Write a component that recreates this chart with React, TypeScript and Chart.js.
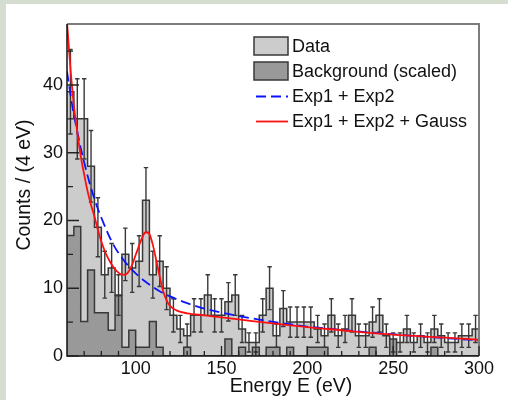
import React, { useEffect, useRef } from "react";
import { Chart, registerables } from "chart.js";

Chart.register(...registerables);

// ---- data -------------------------------------------------------------
const binLow = [
  60, 64, 68, 72, 76, 80, 84, 88, 92, 96, 100, 104, 108, 112, 116, 120, 124, 128, 132, 136,
  140, 144, 148, 152, 156, 160, 164, 168, 172, 176, 180, 184, 188, 192, 196, 200, 204, 208, 212, 216,
  220, 224, 228, 232, 236, 240, 244, 248, 252, 256, 260, 264, 268, 272, 276, 280, 284, 288, 292, 296,
];
const binHigh = 300;

const dataCounts = [
  39, 35, 35, 28, 19, 12, 13, 9, 15, 13, 14, 23, 12, 14, 10, 6, 4, 3, 6, 6,
  9, 6, 6, 8, 9, 4, 2, 2, 6, 10, 3, 7, 5, 5, 5, 5, 4, 3, 6, 3,
  4, 6, 3, 3, 5, 6, 3, 2, 2, 4, 2, 3, 2, 4, 3, 2, 2, 3, 3, 4,
];

const backgroundScaled = [
  17.8, 19.1, 5.1, 12.7, 6.4, 6.4, 3.8, 8.9, 1.3, 3.8, 1.3, 1.3, 5.1, 1.3, 0, 0, 0, 1.3, 0, 0,
  0, 0, 0, 2.5, 0, 1.3, 0, 1.3, 0, 1.3, 1.3, 0, 1.3, 0, 0, 1.3, 1.3, 1.3, 0, 0,
  0, 0, 0, 0, 1.3, 0, 0, 2.5, 0, 0, 0, 0, 0, 1.3, 0, 0, 0, 0, 0, 0,
];

const expEnergy = [
  60, 62, 64, 66, 68, 70, 72, 74, 76, 78, 80, 84, 88, 92, 96, 100, 105, 110, 115, 120,
  130, 140, 150, 160, 180, 200, 220, 240, 260, 280, 300,
];
const expValues = [
  42, 38.6, 35.6, 33.1, 30.7, 28.6, 26.6, 24.8, 23.2, 21.7, 20.4, 18.0, 16.0, 14.5, 13.2, 12.2,
  11.1, 10.2, 9.4, 8.8, 7.8, 7.0, 6.4, 5.9, 5.05, 4.35, 3.85, 3.4, 3.0, 2.65, 2.3,
];

const gaussEnergy = [
  60, 62, 64, 66, 68, 70, 72, 74, 76, 78, 80, 82, 84, 86, 88, 90, 92, 94, 96, 98,
  100, 102, 104, 106, 108, 110, 112, 114, 116, 118, 120, 124, 130, 140, 150, 160, 180, 200,
  220, 240, 260, 280, 300,
];
const gaussValues = [
  49.3, 42.5, 37, 33, 29.5, 26.8, 24.3, 22.3, 20.6, 18.6, 16.9, 15.5, 14.4, 13.5, 12.8, 12.3,
  12.0, 12.0, 12.5, 13.5, 14.9, 16.3, 17.6, 18.3, 18.0, 16.4, 14.1, 11.7, 9.6, 8.2, 7.4, 6.7,
  6.3, 6.0, 5.7, 5.4, 4.8, 4.25, 3.8, 3.35, 3.0, 2.7, 2.4,
];

const xTickLabels = [100, 150, 200, 250, 300];
const xMinorTicks = [70, 80, 90, 110, 120, 130, 140, 160, 170, 180, 190, 210, 220, 230, 240, 260, 270, 280, 290];
const yTickLabels = [0, 10, 20, 30, 40];
const yMinorTicks = [5, 15, 25, 35, 45];

const xTitle = "Energy E (eV)";
const yTitle = "Counts / (4 eV)";
const labels = ["Data", "Background (scaled)", "Exp1 + Exp2", "Exp1 + Exp2 + Gauss"];

// ---- styles -----------------------------------------------------------
const FONT = "Liberation Sans, Arial, Helvetica, sans-serif";
const OUTLINE = "#383838";
const DATA_FILL = "#cccccc";
const BKG_FILL = "#999999";
const BLUE = "#0a14ff";
const RED = "#ff1010";

function stepPoints(vals: number[]) {
  const pts = binLow.map((x, i) => ({ x, y: vals[i] }));
  pts.push({ x: binHigh, y: vals[vals.length - 1] });
  return pts;
}

function errorBarPoints(vals: number[]) {
  const pts: { x: number; y: number | null }[] = [];
  const cap = 1.3;
  vals.forEach((n, i) => {
    const c = (binLow[i] + (i + 1 < binLow.length ? binLow[i + 1] : binHigh)) / 2;
    const e = Math.sqrt(n);
    const lo = n - e;
    const hi = n + e;
    pts.push({ x: c, y: lo }, { x: c, y: hi }, { x: c, y: null });
    pts.push({ x: c - cap, y: hi }, { x: c + cap, y: hi }, { x: c, y: null });
    pts.push({ x: c - cap, y: lo }, { x: c + cap, y: lo }, { x: c, y: null });
  });
  return pts;
}

const framePlugin = {
  id: "rootFrame",
  afterDatasetsDraw(chart: any) {
    const { ctx, chartArea: a, scales } = chart;
    const xs = scales.x;
    const ys = scales.y;
    ctx.save();
    ctx.lineCap = "butt";
    // top and right frame (gray)
    ctx.strokeStyle = "#7d7d7d";
    ctx.lineWidth = 2;
    ctx.beginPath();
    ctx.moveTo(a.left, a.top);
    ctx.lineTo(a.right, a.top);
    ctx.lineTo(a.right, a.bottom);
    ctx.stroke();
    // axes (dark)
    ctx.strokeStyle = "#111";
    ctx.lineWidth = 1.5;
    ctx.beginPath();
    ctx.moveTo(a.left, a.top);
    ctx.lineTo(a.left, a.bottom);
    ctx.lineTo(a.right, a.bottom);
    ctx.stroke();
    // inward ticks
    ctx.strokeStyle = "#222";
    ctx.lineWidth = 1.3;
    ctx.beginPath();
    yTickLabels.forEach((v) => {
      const p = ys.getPixelForValue(v);
      ctx.moveTo(a.left, p);
      ctx.lineTo(a.left + 12, p);
    });
    yMinorTicks.forEach((v) => {
      const p = ys.getPixelForValue(v);
      ctx.moveTo(a.left, p);
      ctx.lineTo(a.left + 6, p);
    });
    xTickLabels.forEach((v) => {
      const p = xs.getPixelForValue(v);
      ctx.moveTo(p, a.bottom);
      ctx.lineTo(p, a.bottom - 10);
    });
    xMinorTicks.forEach((v) => {
      const p = xs.getPixelForValue(v);
      ctx.moveTo(p, a.bottom);
      ctx.lineTo(p, a.bottom - 5);
    });
    ctx.stroke();
    ctx.restore();
  },
  afterDraw(chart: any) {
    const { ctx, chartArea: a } = chart;
    const ds = chart.data.datasets;
    ctx.save();
    // axis titles
    ctx.fillStyle = "#111";
    ctx.font = `19.5px ${FONT}`;
    ctx.textAlign = "center";
    ctx.textBaseline = "alphabetic";
    ctx.fillText(xTitle, (a.left + a.right) / 2 + 18, a.bottom + 36);
    ctx.save();
    ctx.translate(23.5, (a.top + a.bottom) / 2 - 5);
    ctx.rotate(-Math.PI / 2);
    ctx.fillText(yTitle, 0, 0);
    ctx.restore();

    // legend
    const bx = 248;
    const bw = 34;
    const tx = 286;
    const rows = [42, 67, 92.5, 117.5];
    ctx.textAlign = "left";
    ctx.textBaseline = "middle";
    [0, 1].forEach((i) => {
      const d = ds[i];
      ctx.fillStyle = d.backgroundColor;
      ctx.fillRect(bx, rows[i] - 9, bw, 18);
      ctx.strokeStyle = d.borderColor;
      ctx.lineWidth = 1.5;
      ctx.strokeRect(bx, rows[i] - 9, bw, 18);
    });
    [3, 4].forEach((i, k) => {
      const d = ds[i];
      ctx.strokeStyle = d.borderColor;
      ctx.lineWidth = d.borderWidth;
      ctx.setLineDash(d.borderDash || []);
      ctx.beginPath();
      ctx.moveTo(bx + 2, rows[2 + k]);
      ctx.lineTo(bx + bw, rows[2 + k]);
      ctx.stroke();
      ctx.setLineDash([]);
    });
    ctx.fillStyle = "#111";
    ctx.font = `18px ${FONT}`;
    labels.forEach((t, i) => ctx.fillText(t, tx, rows[i] + 1));
    ctx.restore();
  },
};

export default function App() {
  const ref = useRef<HTMLCanvasElement | null>(null);

  useEffect(() => {
    if (!ref.current) return;
    const chart = new Chart(ref.current, {
      type: "line",
      data: {
        datasets: [
          {
            label: labels[0],
            data: stepPoints(dataCounts),
            stepped: true,
            fill: "origin",
            backgroundColor: DATA_FILL,
            borderColor: OUTLINE,
            borderWidth: 1.5,
            pointRadius: 0,
            order: 5,
            clip: 0,
          },
          {
            label: labels[1],
            data: stepPoints(backgroundScaled),
            stepped: true,
            fill: "origin",
            backgroundColor: BKG_FILL,
            borderColor: OUTLINE,
            borderWidth: 1.5,
            pointRadius: 0,
            order: 4,
            clip: 0,
          },
          {
            label: "errors",
            data: errorBarPoints(dataCounts),
            borderColor: OUTLINE,
            borderWidth: 1.4,
            pointRadius: 0,
            spanGaps: false,
            fill: false,
            order: 3,
            clip: 0,
          },
          {
            label: labels[2],
            data: expEnergy.map((x, i) => ({ x, y: expValues[i] })),
            borderColor: BLUE,
            borderWidth: 1.8,
            borderDash: [10, 5],
            pointRadius: 0,
            cubicInterpolationMode: "monotone",
            fill: false,
            order: 2,
            clip: 0,
          },
          {
            label: labels[3],
            data: gaussEnergy.map((x, i) => ({ x, y: gaussValues[i] })),
            borderColor: RED,
            borderWidth: 1.8,
            pointRadius: 0,
            cubicInterpolationMode: "monotone",
            fill: false,
            order: 1,
            clip: 0,
          },
        ] as any,
      },
      options: {
        animation: false,
        responsive: false,
        maintainAspectRatio: false,
        events: [],
        layout: { padding: { left: 0, top: 20, right: 29, bottom: 0 } },
        plugins: { legend: { display: false }, tooltip: { enabled: false } },
        scales: {
          x: {
            type: "linear",
            min: 60,
            max: 300,
            grid: { display: false, drawTicks: false },
            border: { display: false },
            ticks: {
              color: "#111",
              font: { family: FONT, size: 18 },
              padding: 2,
              maxRotation: 0,
              autoSkip: false,
            },
            afterBuildTicks: (s: any) => {
              s.ticks = xTickLabels.map((v) => ({ value: v }));
            },
            afterFit: (s: any) => {
              s.height = 44;
            },
          },
          y: {
            type: "linear",
            min: 0,
            max: 49,
            grid: { display: false, drawTicks: false },
            border: { display: false },
            ticks: {
              color: "#111",
              font: { family: FONT, size: 18 },
              padding: 4,
            },
            afterBuildTicks: (s: any) => {
              s.ticks = yTickLabels.map((v) => ({ value: v }));
            },
            afterFit: (s: any) => {
              s.width = 61;
            },
          },
        },
      } as any,
      plugins: [framePlugin],
    });
    return () => chart.destroy();
  }, []);

  return (
    <div style={{ position: "fixed", left: 0, top: 0, width: 508, height: 400, background: "#d5dcd0" }}>
      <canvas
        ref={ref}
        width={502}
        height={396}
        style={{ position: "absolute", left: 6, top: 4, background: "#ffffff" }}
      />
    </div>
  );
}
